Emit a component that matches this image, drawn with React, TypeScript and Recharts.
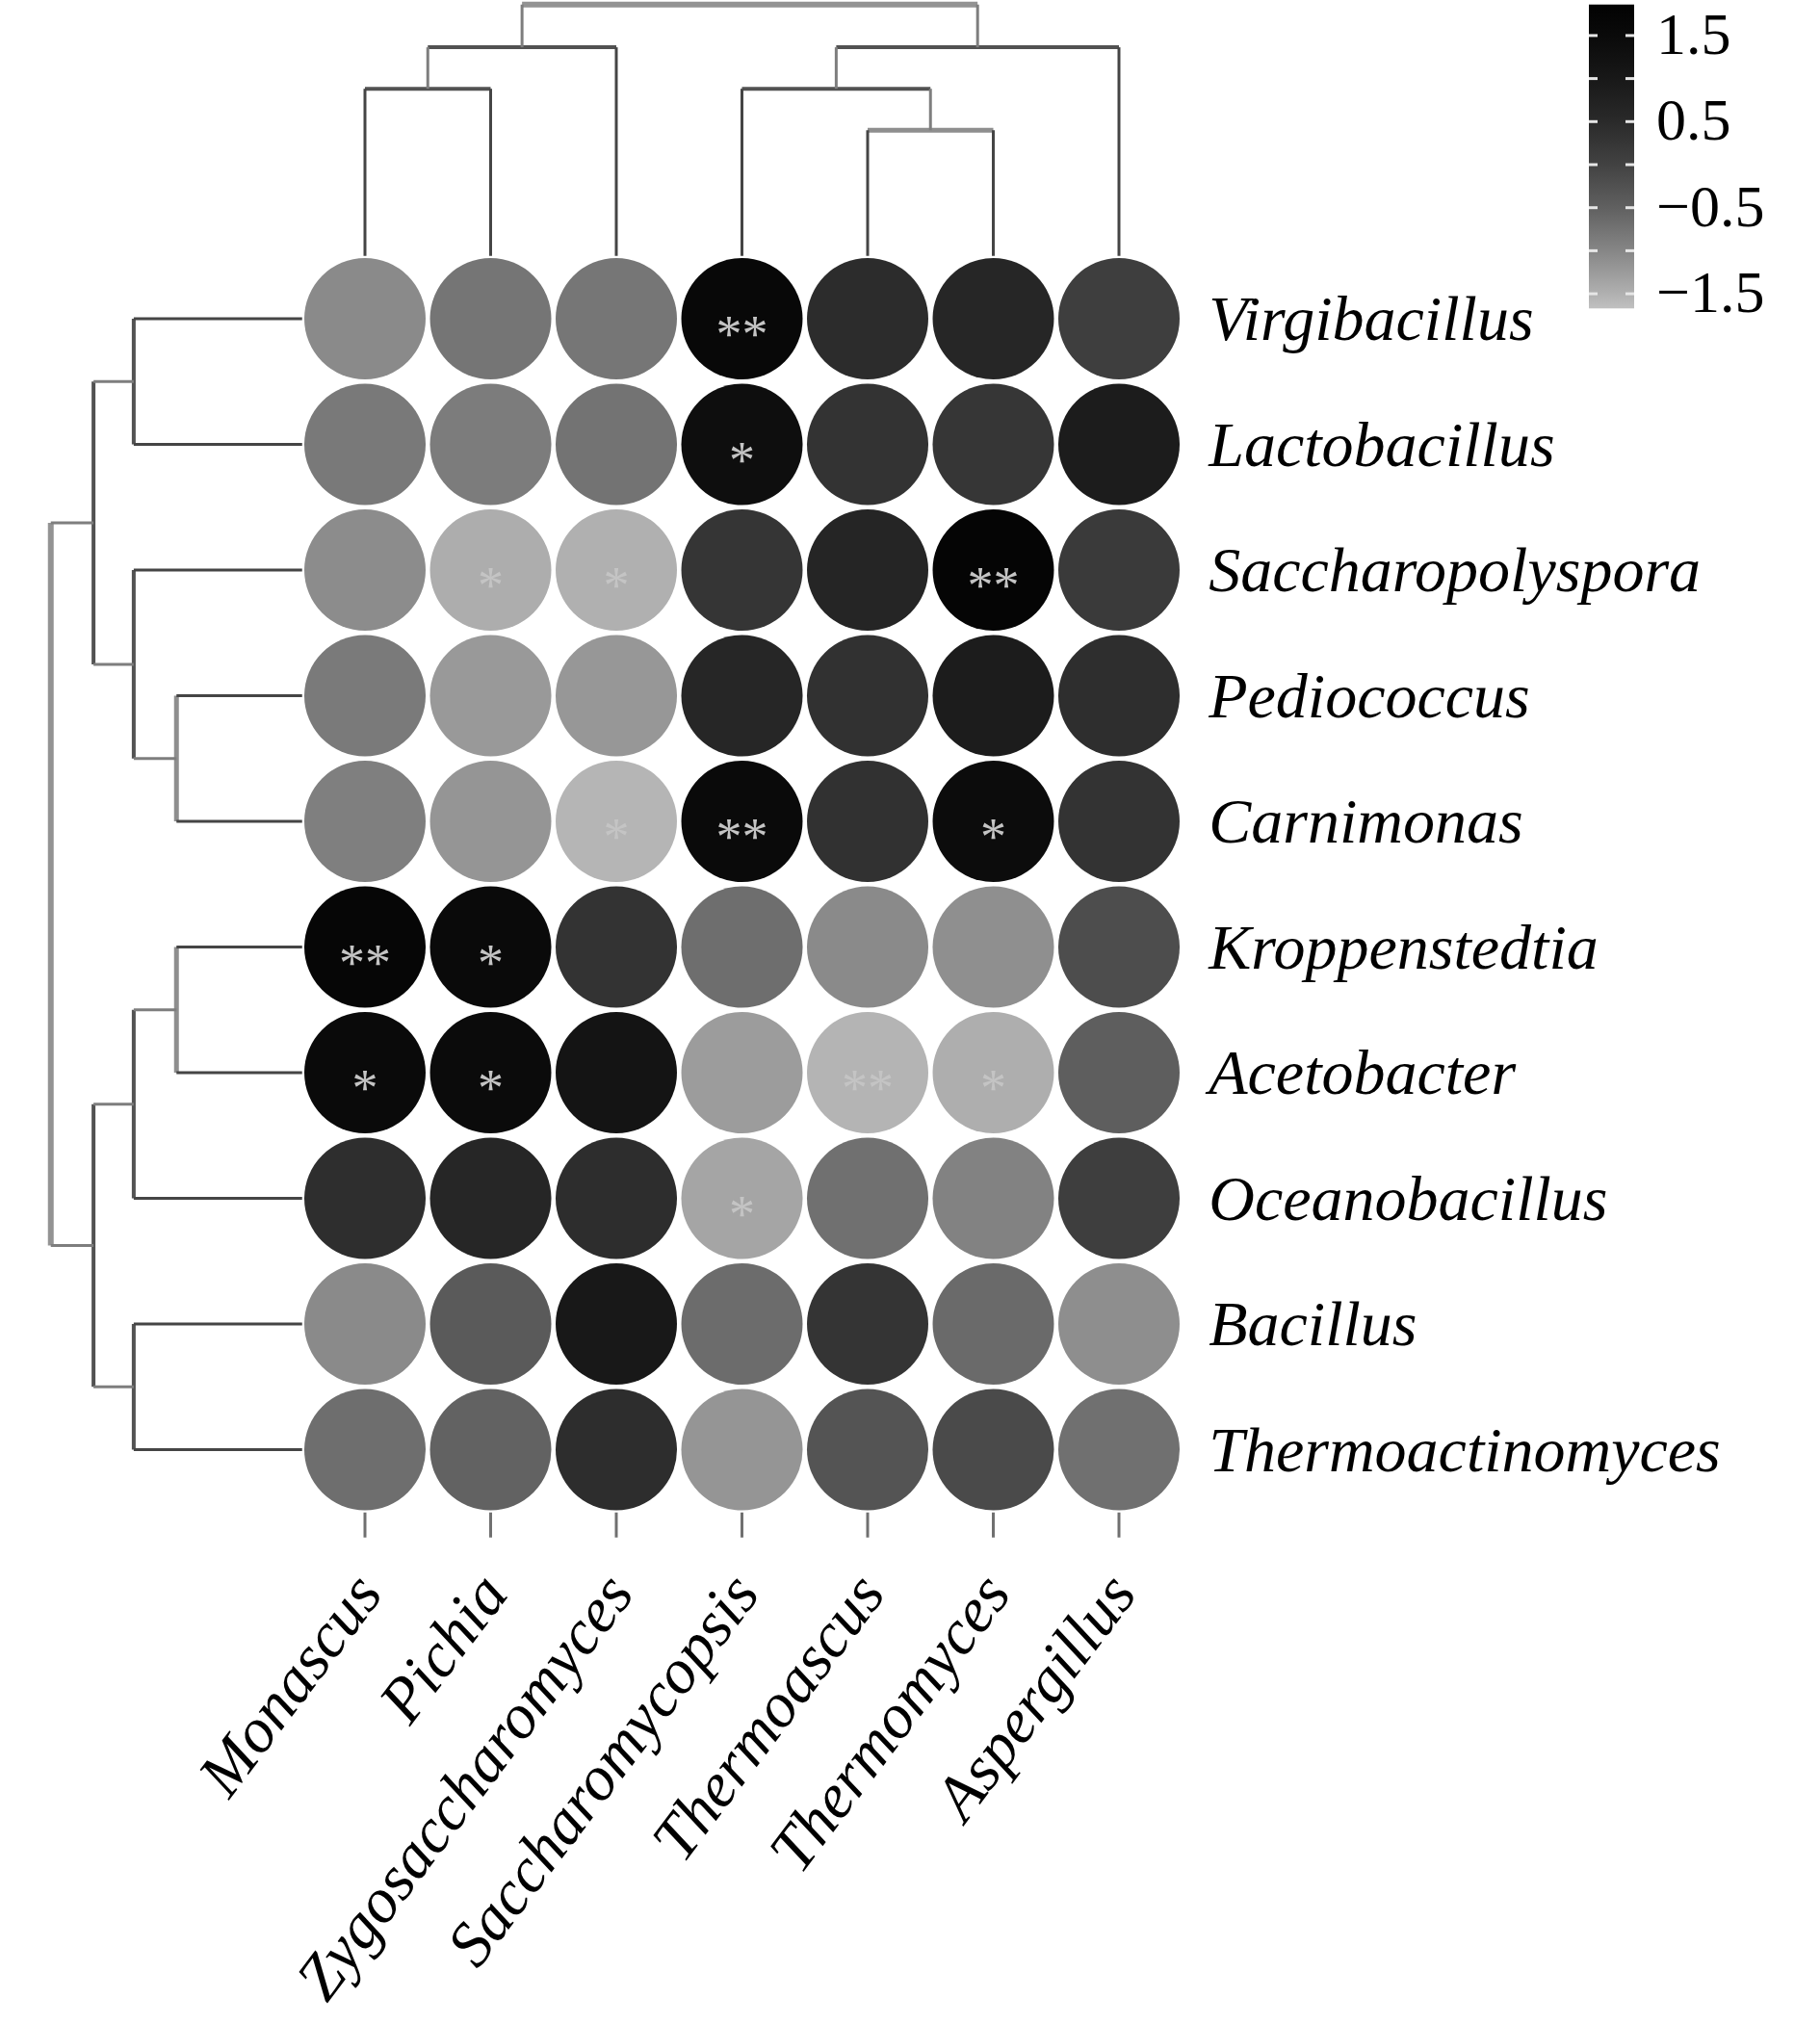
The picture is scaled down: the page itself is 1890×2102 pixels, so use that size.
import React from 'react';
import { ScatterChart, Scatter, XAxis, YAxis, ReferenceLine, Customized } from 'recharts';

// ---------- categories ----------
const colNames = ['Monascus', 'Pichia', 'Zygosaccharomyces', 'Saccharomycopsis', 'Thermoascus', 'Thermomyces', 'Aspergillus'];
const rowNames = ['Virgibacillus', 'Lactobacillus', 'Saccharopolyspora', 'Pediococcus', 'Carnimonas', 'Kroppenstedtia', 'Acetobacter', 'Oceanobacillus', 'Bacillus', 'Thermoactinomyces'];

// ---------- values (row by row, columns in colNames order) ----------
const valVirgibacillus = [-1.05, -0.78, -0.79, 1.59, 0.46, 0.61, 0.08];
const valLactobacillus = [-0.83, -0.87, -0.75, 1.36, 0.31, 0.25, 0.89];
const valSaccharopolyspora = [-1.07, -1.46, -1.5, 0.27, 0.64, 1.73, 0.17];
const valPediococcus = [-0.84, -1.23, -1.2, 0.61, 0.35, 0.89, 0.42];
const valCarnimonas = [-0.91, -1.18, -1.55, 1.5, 0.35, 1.43, 0.31];
const valKroppenstedtia = [1.68, 1.5, 0.31, -0.68, -1.05, -1.11, -0.18];
const valAcetobacter = [1.5, 1.46, 1.14, -1.26, -1.54, -1.48, -0.47];
const valOceanobacillus = [0.42, 0.61, 0.44, -1.37, -0.71, -0.95, 0.08];
const valBacillus = [-1.05, -0.4, 1.0, -0.66, 0.29, -0.63, -1.1];
const valThermoactinomyces = [-0.68, -0.53, 0.44, -1.18, -0.3, -0.13, -0.71];

// ---------- significance marks ----------
const sigVirgibacillus = ['', '', '', '**', '', '', ''];
const sigLactobacillus = ['', '', '', '*', '', '', ''];
const sigSaccharopolyspora = ['', '*', '*', '', '', '**', ''];
const sigPediococcus = ['', '', '', '', '', '', ''];
const sigCarnimonas = ['', '', '*', '**', '', '*', ''];
const sigKroppenstedtia = ['**', '*', '', '', '', '', ''];
const sigAcetobacter = ['*', '*', '', '', '**', '*', ''];
const sigOceanobacillus = ['', '', '', '*', '', '', ''];
const sigBacillus = ['', '', '', '', '', '', ''];
const sigThermoactinomyces = ['', '', '', '', '', '', ''];

const valueRows = [valVirgibacillus, valLactobacillus, valSaccharopolyspora, valPediococcus, valCarnimonas, valKroppenstedtia, valAcetobacter, valOceanobacillus, valBacillus, valThermoactinomyces];
const sigRows = [sigVirgibacillus, sigLactobacillus, sigSaccharopolyspora, sigPediococcus, sigCarnimonas, sigKroppenstedtia, sigAcetobacter, sigOceanobacillus, sigBacillus, sigThermoactinomyces];

// ---------- colour scale ----------
const paletteValues = [-1.67, -1.5, -1.0, -0.5, 0, 0.5, 1.0, 1.5, 1.86];
const paletteGrays = [192, 176, 134, 96, 66, 42, 24, 10, 2];
const legendTicks = [-1.5, -1, -0.5, 0, 0.5, 1, 1.5];
const legendLabels = [-1.5, -0.5, 0.5, 1.5];

// ---------- dendrograms: [left child, right child, height] ----------
const rowMerges = [[0, 1, 1.34], [3, 4, 1.0], [2, 11, 1.34], [10, 12, 1.66], [5, 6, 1.0], [14, 7, 1.34], [8, 9, 1.34], [15, 16, 1.66], [13, 17, 2.0]];
const colMerges = [[0, 1, 1.33], [7, 2, 1.66], [4, 5, 1.0], [3, 9, 1.33], [10, 6, 1.66], [8, 11, 2.0]];

const FONT = "'Liberation Serif', 'Times New Roman', serif";
const LABEL_SIZE = 66;

function grayFor(v: number): string {
  let g = paletteGrays[0];
  if (v >= paletteValues[paletteValues.length - 1]) g = paletteGrays[paletteGrays.length - 1];
  else if (v > paletteValues[0]) {
    for (let i = 0; i < paletteValues.length - 1; i++) {
      if (v >= paletteValues[i] && v <= paletteValues[i + 1]) {
        const t = (v - paletteValues[i]) / (paletteValues[i + 1] - paletteValues[i]);
        g = paletteGrays[i] + t * (paletteGrays[i + 1] - paletteGrays[i]);
        break;
      }
    }
  }
  const c = Math.round(g);
  return `rgb(${c},${c},${c})`;
}

const cells: any[] = [];
rowNames.forEach((_, r) => {
  colNames.forEach((__, c) => {
    cells.push({ x: c, y: r, value: valueRows[r][c], sig: sigRows[r][c] });
  });
});

type Seg = { a: number; b: number; c: number; d: number; stroke: string; w: number };

function buildTree(merges: number[][], nLeaves: number, horizontal: boolean): Seg[] {
  const pos: number[] = [];
  const hgt: number[] = [];
  for (let i = 0; i < nLeaves; i++) { pos.push(i); hgt.push(0); }
  const maxH = Math.max(...merges.map((m) => m[2]));
  const segs: Seg[] = [];
  const pt = (p: number, h: number) => (horizontal ? { x: -0.5 - h, y: p } : { x: p, y: -0.5 - h });
  merges.forEach((m) => {
    const [l, r, H] = m;
    const pl = pos[l], pr = pos[r];
    const isRoot = H === maxH;
    let barStroke = '#525252', barW = 4;
    if (isRoot) { barStroke = '#939393'; barW = 6; }
    else if (H <= 1.0) { barStroke = '#8e8e8e'; barW = 5; }
    const p1 = pt(pl, H), p2 = pt(pr, H);
    segs.push({ a: p1.x, b: p1.y, c: p2.x, d: p2.y, stroke: barStroke, w: barW });
    [l, r].forEach((ch) => {
      const s = pt(pos[ch], hgt[ch]);
      const e = pt(pos[ch], H);
      const leaf = ch < nLeaves;
      segs.push({ a: s.x, b: s.y, c: e.x, d: e.y, stroke: leaf ? '#454545' : '#7e7e7e', w: 3 });
    });
    pos.push((pl + pr) / 2);
    hgt.push(H);
  });
  return segs;
}

const rowSegs = buildTree(rowMerges, rowNames.length, true);
const colSegs = buildTree(colMerges, colNames.length, false);

const CellShape = (props: any) => {
  const { cx, cy } = props;
  const p = props.payload || props;
  return (
    <g>
      <circle cx={cx} cy={cy} r={63} fill={grayFor(p.value)} />
      {p.sig ? (
        <text x={cx} y={cy + 34} textAnchor="middle" fontSize={54} fill="#c4c4c4" fontFamily={FONT}>{p.sig}</text>
      ) : null}
    </g>
  );
};

const RowTick = (props: any) => {
  const { x, y, payload } = props;
  return (
    <text x={x} y={y + 22} textAnchor="start" fontFamily={FONT} fontStyle="italic" fontSize={LABEL_SIZE} fill="#000">
      {rowNames[payload.value]}
    </text>
  );
};

const ColTick = (props: any) => {
  const { x, y, payload } = props;
  const tx = x + 20;
  return (
    <text x={tx} y={y} transform={`rotate(-53, ${tx}, ${y})`} textAnchor="end" fontFamily={FONT} fontStyle="italic" fontSize={LABEL_SIZE} fill="#000">
      {colNames[payload.value]}
    </text>
  );
};

const CB_X = 1650, CB_W = 47, CB_ZERO = 171, CB_UNIT = 89.4;
const ColorBar = () => {
  const vMin = paletteValues[0], vMax = paletteValues[paletteValues.length - 1];
  const yOf = (v: number) => CB_ZERO - v * CB_UNIT;
  return (
    <g>
      <defs>
        <linearGradient id="cbarGrad" x1="0" y1="1" x2="0" y2="0">
          {paletteValues.map((v, i) => (
            <stop key={i} offset={(v - vMin) / (vMax - vMin)} stopColor={grayFor(v)} />
          ))}
        </linearGradient>
      </defs>
      <rect x={CB_X} y={yOf(vMax)} width={CB_W} height={yOf(vMin) - yOf(vMax)} fill="url(#cbarGrad)" />
      {legendTicks.map((t, i) => (
        <g key={i}>
          <line x1={CB_X} x2={CB_X + 9} y1={yOf(t)} y2={yOf(t)} stroke="#e6e6e6" strokeWidth={3} />
          <line x1={CB_X + CB_W - 9} x2={CB_X + CB_W} y1={yOf(t)} y2={yOf(t)} stroke="#e6e6e6" strokeWidth={3} />
        </g>
      ))}
      {legendLabels.map((t, i) => (
        <text key={i} x={1720} y={yOf(t) + 19} textAnchor="start" fontFamily={FONT} fontSize={62} fill="#000">
          {t < 0 ? '\u2212' + Math.abs(t).toFixed(1) : t.toFixed(1)}
        </text>
      ))}
    </g>
  );
};

export default function App() {
  return (
    <div style={{ position: 'absolute', left: 0, top: 0, width: 1890, height: 2102, background: '#fff' }}>
      <ScatterChart
        width={1890}
        height={2102}
        margin={{ top: 265.75, left: 313.75, right: 622.75, bottom: 491.25 }}
      >
        <XAxis
          type="number"
          dataKey="x"
          domain={[-0.5, 6.5]}
          allowDataOverflow
          ticks={[0, 1, 2, 3, 4, 5, 6]}
          interval={0}
          axisLine={false}
          tickSize={26}
          tickMargin={59}
          tickLine={{ stroke: '#707070', strokeWidth: 3 }}
          tick={<ColTick />}
          height={40}
        />
        <YAxis
          type="number"
          dataKey="y"
          orientation="right"
          reversed
          domain={[-0.5, 9.5]}
          allowDataOverflow
          ticks={[0, 1, 2, 3, 4, 5, 6, 7, 8, 9]}
          interval={0}
          axisLine={false}
          tickLine={false}
          tickSize={0}
          tickMargin={28}
          tick={<RowTick />}
          width={40}
        />
        {rowSegs.map((s, i) => (
          <ReferenceLine key={'r' + i} segment={[{ x: s.a, y: s.b }, { x: s.c, y: s.d }]} ifOverflow="visible" stroke={s.stroke} strokeWidth={s.w} />
        ))}
        {colSegs.map((s, i) => (
          <ReferenceLine key={'c' + i} segment={[{ x: s.a, y: s.b }, { x: s.c, y: s.d }]} ifOverflow="visible" stroke={s.stroke} strokeWidth={s.w} />
        ))}
        <Scatter data={cells} shape={<CellShape />} isAnimationActive={false} />
        <Customized component={ColorBar} />
      </ScatterChart>
    </div>
  );
}
